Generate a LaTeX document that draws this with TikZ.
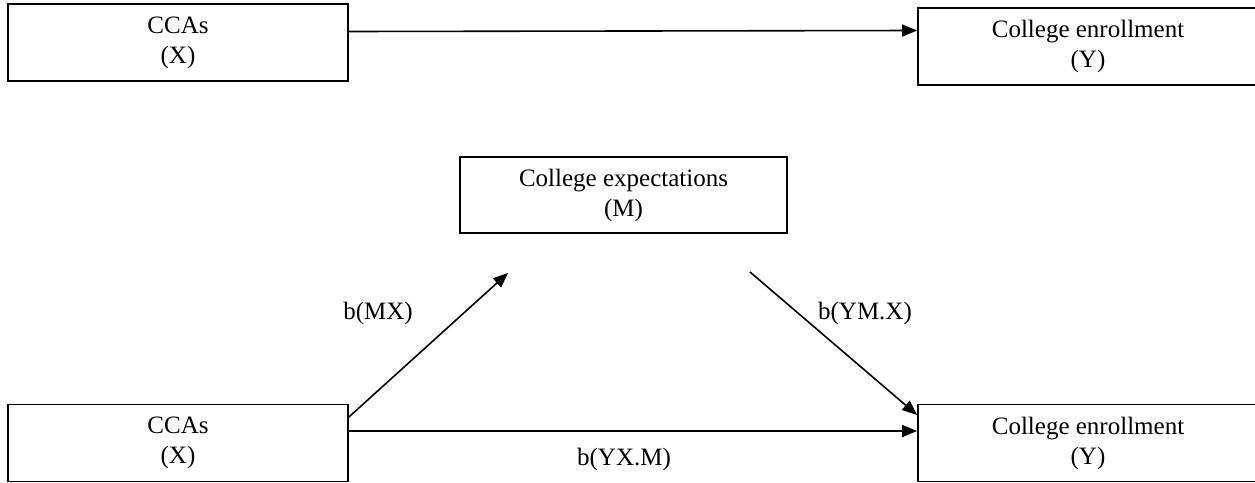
\documentclass[tikz,border=0pt]{standalone}
\usepackage{fontspec}
\setmainfont{Liberation Serif}
\usepackage{tikz}
\usetikzlibrary{positioning,arrows.meta,calc}

\begin{document}
\begin{tikzpicture}[
		x=1pt, y=1pt,
		font=\fontsize{25}{30}\selectfont,
		box/.style={draw, line width=1.8pt, align=center, inner sep=0pt,
				minimum width=340pt, minimum height=77pt},
		arr/.style={-{Triangle[length=15pt,width=12pt]}, line width=1.6pt},
		lbl/.style={inner sep=0pt}
		]
		\useasboundingbox (0,0) rectangle (1255,-482);
		% top: total effect
		\node[box] (cx) at (178,-42.5) {CCAs\\(X)};
		\node[box] (ce) at (1088,-46.5) {College enrollment\\(Y)};
		% bottom: mediation
		\node[box, minimum width=327pt, minimum height=76pt] (mx) at (623.5,-195)
		{College expectations\\(M)};
		\node[box] (bx) at (178,-443) {CCAs\\(X)};
		\node[box] (by) at (1088,-443) {College enrollment\\(Y)};
		% labels
		\node[lbl] (lmx) at (378,-313) {b(MX)};
		\node[lbl] (lym) at (865,-313) {b(YM.X)};
		\node[lbl] (lyx) at (624,-459) {b(YX.M)};
		% arrows
		\draw[arr] ([yshift=11pt]cx.east) -- ([yshift=16pt]ce.west);
		\draw[arr] ([yshift=12pt]bx.east) -- ([yshift=12pt]by.west);
		\draw[arr] ([yshift=26pt]bx.east) -- ([xshift=49pt,yshift=-39pt]mx.south west);
		\draw[arr] ([xshift=-38pt,yshift=-38pt]mx.south east) -- ([yshift=28pt]by.west);
	\end{tikzpicture}
\end{document}
